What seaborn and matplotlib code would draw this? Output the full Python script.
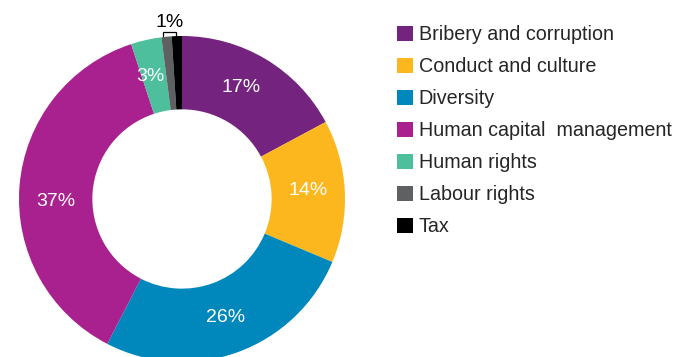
import matplotlib
matplotlib.use("Agg")
import matplotlib.pyplot as plt
import matplotlib.patches as mpatches
import numpy as np
import seaborn as sns

# Share of engagement topics (social themes)
categories = ["Bribery and corruption", "Conduct and culture", "Diversity",
              "Human capital  management", "Human rights", "Labour rights", "Tax"]
shares = [17, 14, 26, 37, 3, 1, 1]
colors = ["#74237f", "#fdb71e", "#0087bb", "#a8218e", "#4dbf9c", "#5e6062", "#000000"]

sns.set_theme(style="white")
plt.rcParams["font.family"] = ["Liberation Sans", "DejaVu Sans"]

W, H = 678, 357
fig = plt.figure(figsize=(W / 100, H / 100), dpi=100)

# donut geometry in pixels
cx, cy, R = 182, 199, 163
ax = fig.add_axes([(cx - R) / W, (H - cy - R) / H, 2 * R / W, 2 * R / H])

palette = sns.color_palette(colors)
ring = 0.45
wedges, _ = ax.pie(shares, colors=palette, startangle=90, counterclock=False,
                   radius=1.0, wedgeprops=dict(width=ring, linewidth=0))
ax.set_xlim(-1, 1)
ax.set_ylim(-1, 1)
ax.set_aspect("equal")
ax.axis("off")

# in-ring percentage labels (small angular nudges, in degrees, for readability)
label_r = 1.0 - ring / 2
nudge = [3.0, 1.0, 0.0, 5.5, 2.0]
for w, v, dn in zip(wedges[:5], shares[:5], nudge):
    mid = np.deg2rad((w.theta1 + w.theta2) / 2 + dn)
    ax.text(label_r * np.cos(mid), label_r * np.sin(mid), f"{v}%",
            ha="center", va="center", color="white", fontsize=14)

# bracket over the two smallest slices
mids = [np.deg2rad((w.theta1 + w.theta2) / 2) for w in wedges[5:]]
x0, x1 = np.cos(mids[0]) - 0.02, np.cos(mids[1]) - 0.005
ax.plot([x0, x0, x1, x1], [1.0, 1.025, 1.025, 1.0], color="black",
        lw=0.9, clip_on=False, solid_joinstyle="miter")
ax.text((x0 + x1) / 2, 1.03, f"{shares[5]}%", ha="center", va="bottom",
        fontsize=14, color="black", clip_on=False)

handles = [mpatches.Patch(facecolor=c, edgecolor="none") for c in palette]
fig.legend(handles, categories, loc="upper left",
           bbox_to_anchor=(397 / W, 1 - 25 / H), frameon=False,
           fontsize=14.2, borderpad=0, borderaxespad=0,
           handlelength=0.8, handleheight=0.8, handletextpad=0.3,
           labelspacing=0.66)

fig.savefig("out.png", dpi=100, facecolor="white")
